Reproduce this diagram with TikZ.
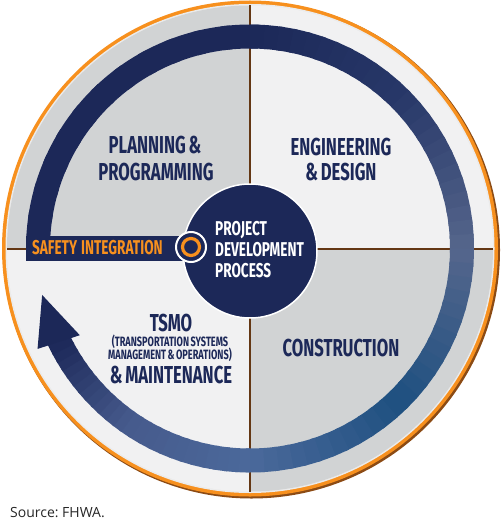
\documentclass[tikz,border=0pt]{standalone}
\usepackage{fontspec}
\setmainfont{Open Sans}
\newfontfamily\condfont[FakeStretch=0.68,WordSpace=0.7]{Fira Sans}
\usetikzlibrary{calc,positioning}
\frenchspacing
\definecolor{navy}{RGB}{28,40,88}
\definecolor{bandA}{RGB}{40,56,105}
\definecolor{bandB}{RGB}{85,102,140}
\definecolor{bandC}{RGB}{30,80,128}
\definecolor{bandD}{RGB}{75,105,155}
\definecolor{bandE}{RGB}{70,90,140}
\definecolor{rim}{RGB}{247,144,30}
\definecolor{rimshadow}{RGB}{140,75,20}
\definecolor{divbrown}{RGB}{100,55,20}
\definecolor{greyq}{RGB}{209,211,212}
\definecolor{paleq}{RGB}{241,241,242}
\newcommand{\dark}{greyq}
\newcommand{\light}{paleq}
\tikzset{
  heading/.style={anchor=base, text=navy, inner sep=0pt, font={\condfont\bfseries\fontsize{24.5}{26}\selectfont}},
  smallheading/.style={heading, font={\condfont\bfseries\fontsize{13.5}{14}\selectfont}},
  hubline/.style={anchor=base west, text=white, inner sep=0pt, font={\condfont\bfseries\fontsize{20}{21}\selectfont}},
  hub/.style={circle, fill=navy, draw=white, line width=1.5pt, minimum size=134pt, inner sep=0pt},
  safetybar/.style={anchor=west, fill=navy, text=rim, minimum height=25pt, text width=152pt, align=left, inner xsep=6pt, inner ysep=0pt, font={\condfont\bfseries\fontsize{20}{21}\selectfont}},
  iconout/.style={circle, fill=navy, draw=white, line width=2pt, minimum size=30pt, inner sep=0pt},
  iconin/.style={circle, draw=rim, line width=3.2pt, minimum size=17pt, inner sep=0pt},
  divider/.style={draw=divbrown, line width=2pt}
}
\begin{document}
\begin{tikzpicture}[x=1pt,y=1pt]
    \useasboundingbox (0,0) rectangle (500,-524);
    \coordinate (c) at (250,-248.5);
    % rim
    \fill[rimshadow] ([shift={(1.5,-1.5)}]c) circle (248.5);
    \fill[rim] (c) circle (248);
    \fill[white!92!black] (c) circle (244.5);
    % quadrants
    \fill[\dark] (c) -- ++(90:243) arc[start angle=90,end angle=180,radius=243] -- cycle;
    \fill[\light] (c) -- ++(0:243) arc[start angle=0,end angle=90,radius=243] -- cycle;
    \fill[\light] (c) -- ++(180:243) arc[start angle=180,end angle=270,radius=243] -- cycle;
    \fill[\dark] (c) -- ++(270:243) arc[start angle=270,end angle=360,radius=243] -- cycle;
    \coordinate (n) at ($(c)+(90:243)$);
    \coordinate (s) at ($(c)+(270:243)$);
    \coordinate (w) at ($(c)+(180:243)$);
    \coordinate (e) at ($(c)+(0:243)$);
    \draw[divider] (n) -- (s);
    \draw[divider] (w) -- (e);
    % the cycle
    \foreach \sa/\ea/\ca/\cb in {180/90/navy/navy,90/45/navy/bandA,45/0/bandA/bandB,0/-45/bandB/bandC,-45/-90/bandC/bandD,-90/-125/bandD/bandE,-125/-154/bandE/navy}{
        \foreach \i in {0,...,11}{
            \pgfmathsetmacro\aa{\sa+(\ea-\sa)*\i/12}
            \pgfmathsetmacro\ab{\sa+(\ea-\sa)*(\i+1.3)/12}
            \pgfmathtruncatemacro\mix{100*(\i+0.5)/12}
            \draw[line width=24pt, color=\cb!\mix!\ca] ([shift={(\aa:212)}]c) arc[start angle=\aa, end angle=\ab, radius=212];
        }
    }
    \fill[navy] ($(c)+(207:191)$) -- ($(c)+(205.3:235)$) -- ($(c)+(192.6:213)$) -- cycle;
    %\draw[help lines] (0,0) grid[step=50] (500,-524);
    \node[safetybar] (safety) at (26,-248) {SAFETY\hspace{4pt}INTEGRATION};
    \node[hub] (hub) at (250,-251) {};
    \node[iconout] (icon) at (191,-247) {};
    \node[iconin] (iconring) at (icon) {};
    \node[hubline] (hub1) at (215,-235) {PROJECT};
    \node[hubline] (hub2) at (215,-256) {DEVELOPMENT};
    \node[hubline] (hub3) at (215,-277) {PROCESS};
    % quadrant labels
    \node[heading] (plan1) at (155,-153) {PLANNING \&};
    \node[heading] (plan2) at (156,-180) {PROGRAMMING};
    \node[heading] (eng1) at (341,-155) {ENGINEERING};
    \node[heading] (eng2) at (341,-180) {\& DESIGN};
    \node[heading] (cons) at (341,-356) {CONSTRUCTION};
    \node[heading] (tsmo) at (171,-331) {TSMO};
    \node[smallheading] (tsmo1) at (170,-346.5) {(TRANSPORTATION SYSTEMS};
    \node[smallheading] (tsmo2) at (170,-359.5) {MANAGEMENT \& OPERATIONS)};
    \node[heading] (maint) at (171,-383) {\& MAINTENANCE};
    \node[anchor=base west, inner sep=0pt, text=black!85, font={\fontsize{14}{16}\selectfont}] (source) at (10,-517) {Source: FHWA.};
\end{tikzpicture}
\end{document}
